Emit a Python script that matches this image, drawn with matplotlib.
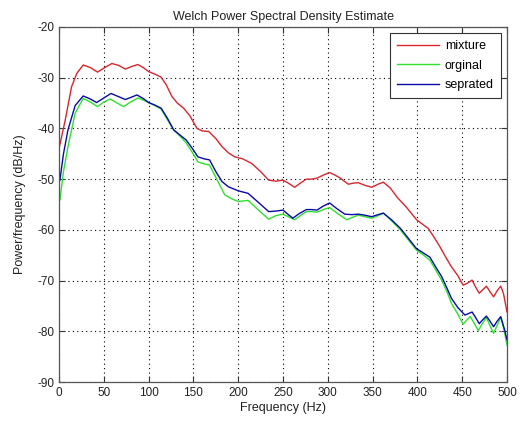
import matplotlib
matplotlib.use("Agg")
import matplotlib.pyplot as plt

# ---- data ----
mix_f = [0, 7, 14, 20, 27, 35, 43, 51, 59, 67, 74, 81, 88, 94, 100, 107, 114, 120, 126, 132, 139, 146, 154, 160, 167, 175, 182, 189, 196, 205, 215, 225, 234, 242, 250, 256, 263, 270, 276, 282, 288, 295, 302, 308, 314, 319, 323, 328, 334, 341, 349, 356, 362, 370, 377, 388, 399, 405, 412, 418, 425, 431, 438, 445, 451, 456, 461, 465, 469, 473, 477, 481, 485, 489, 493, 496, 500]
mix_v = [-44, -38.3, -31.8, -29.1, -27.5, -28.0, -28.9, -28.0, -27.2, -27.6, -28.3, -27.8, -27.4, -28.0, -28.8, -29.3, -29.9, -31.5, -33.7, -35.0, -36.0, -37.5, -40.0, -40.5, -40.6, -42.0, -43.6, -44.8, -45.6, -46.0, -46.9, -48.5, -50.2, -50.4, -50.2, -50.8, -51.6, -50.7, -50.0, -50.0, -49.8, -49.2, -48.7, -49.2, -49.8, -50.5, -51.0, -50.8, -50.7, -51.2, -51.6, -51.0, -50.6, -51.8, -53.5, -55.6, -58.0, -58.8, -59.7, -61.3, -63.3, -65.2, -67.3, -69.0, -70.9, -70.5, -69.9, -71.3, -72.5, -71.8, -71.1, -72.2, -73.2, -72.0, -71.1, -72.5, -76.2]

org_f = [1, 5, 10, 18, 27, 35, 43, 50, 57, 65, 72, 80, 88, 94, 100, 107, 114, 121, 128, 135, 142, 149, 155, 162, 168, 176, 185, 193, 200, 211, 222, 234, 242, 250, 257, 263, 270, 276, 282, 288, 295, 302, 311, 321, 328, 334, 341, 349, 356, 362, 371, 381, 390, 399, 407, 414, 420, 427, 433, 438, 445, 451, 455, 459, 464, 468, 472, 477, 481, 485, 489, 493, 497, 500]
org_v = [-54.1, -48.5, -43.6, -37.0, -34.1, -34.8, -35.7, -34.8, -34.2, -35.0, -35.7, -34.8, -34.0, -34.4, -34.9, -35.5, -36.2, -38.3, -40.3, -41.5, -42.9, -44.8, -46.6, -47.0, -47.2, -50.0, -53.1, -53.9, -54.4, -54.2, -56.0, -57.9, -57.2, -56.9, -57.5, -58.0, -57.1, -56.4, -56.4, -56.5, -56.0, -55.6, -56.8, -58.0, -57.5, -57.1, -57.4, -57.7, -57.2, -56.7, -58.2, -60.0, -62.0, -64.0, -65.0, -66.0, -67.8, -69.9, -72.2, -74.5, -76.6, -78.6, -77.8, -77.1, -78.6, -79.9, -78.6, -77.3, -78.9, -80.4, -78.8, -77.3, -80.0, -82.7]

sep_f = [1, 5, 10, 18, 27, 35, 42, 50, 58, 66, 74, 80, 87, 94, 100, 107, 114, 121, 128, 135, 142, 149, 155, 162, 168, 175, 182, 189, 200, 211, 222, 234, 242, 250, 256, 261, 268, 276, 282, 288, 295, 302, 310, 319, 327, 334, 341, 349, 356, 362, 371, 381, 390, 399, 407, 414, 420, 427, 433, 438, 445, 453, 457, 461, 465, 469, 473, 477, 481, 485, 489, 493, 497, 500]
sep_v = [-50.2, -45.0, -40.3, -35.5, -33.6, -34.2, -34.9, -34.0, -33.1, -33.7, -34.3, -33.9, -33.4, -34.1, -34.9, -35.4, -36.0, -38.0, -40.3, -41.3, -42.3, -44.0, -45.6, -46.0, -46.2, -48.5, -50.5, -51.5, -52.3, -52.8, -54.5, -56.4, -56.3, -56.1, -57.0, -57.7, -56.8, -56.0, -56.0, -56.1, -55.3, -54.7, -55.8, -56.9, -57.0, -56.9, -57.1, -57.4, -57.0, -56.7, -58.0, -59.7, -61.7, -63.7, -64.6, -65.4, -67.2, -69.2, -71.5, -73.5, -75.3, -76.8, -76.5, -76.2, -77.3, -78.5, -77.7, -77.0, -78.0, -79.1, -78.0, -77.1, -79.5, -81.7]

labels = ["mixture", "orginal", "seprated"]
x_ticks = [0, 50, 100, 150, 200, 250, 300, 350, 400, 450, 500]
y_ticks = [-90, -80, -70, -60, -50, -40, -30, -20]

plt.rcParams['font.family'] = ['Liberation Sans', 'DejaVu Sans']
plt.rcParams['axes.unicode_minus'] = False

fig = plt.figure(figsize=(5.24, 4.21), dpi=100)
ax = fig.add_axes([0.1126, 0.0926, 0.8550, 0.8433])

ax.plot(mix_f, mix_v, color='#d8262e', lw=1.0, label=labels[0])
ax.plot(org_f, org_v, color='#2fe02f', lw=1.0, label=labels[1])
ax.plot(sep_f, sep_v, color='#0a0aa8', lw=1.0, label=labels[2])

ax.set_xlim(0, 500)
ax.set_ylim(-90, -20)
ax.set_xticks(x_ticks)
ax.set_yticks(y_ticks)
ax.tick_params(direction='in', top=True, right=True, labelsize=8.5, length=4,
               colors='#333333', labelcolor='#222222', width=0.8)
ax.grid(True, color='black', linestyle=(0, (1, 3)), linewidth=0.8)
for s in ax.spines.values():
    s.set_color('#555555')
    s.set_linewidth(0.9)

ax.set_title('Welch Power Spectral Density Estimate', fontsize=9, pad=5, color='#222222')
ax.set_xlabel('Frequency (Hz)', fontsize=9, labelpad=2, color='#222222')
ax.set_ylabel('Power/frequency (dB/Hz)', fontsize=9, labelpad=8, color='#222222')

leg = ax.legend(loc='upper right', fontsize=9, fancybox=False, framealpha=1,
                edgecolor='#333333', borderaxespad=0.5, handlelength=3.4,
                labelspacing=0.6, borderpad=0.55, handletextpad=0.45)
leg.get_frame().set_linewidth(0.8)

fig.savefig('out.png', dpi=100)
